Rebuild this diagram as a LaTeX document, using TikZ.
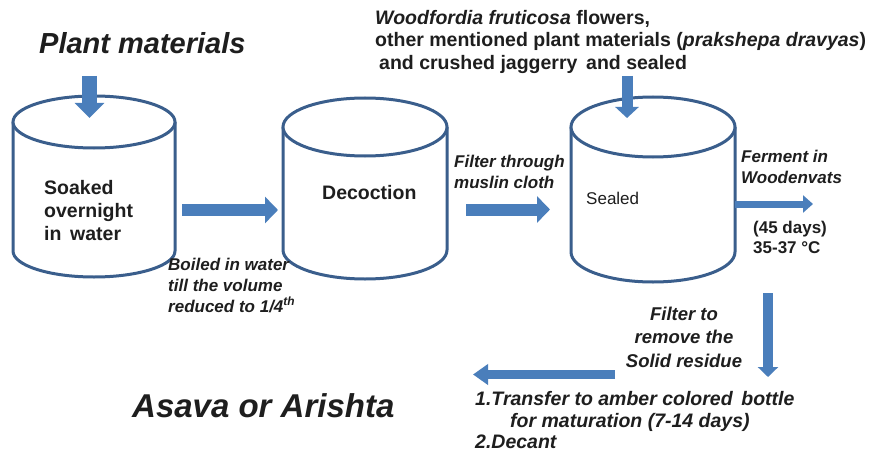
\documentclass[tikz,border=0pt]{standalone}
\usepackage{fontspec}
\setmainfont{Liberation Sans}
\usetikzlibrary{arrows.meta}
\definecolor{cylblue}{RGB}{58,94,140}
\definecolor{arrblue}{RGB}{74,126,187}
\definecolor{txt}{RGB}{30,30,30}
\tikzset{
  cyl/.style={draw=cylblue, line width=3pt, fill=white},
  lbl/.style={anchor=base west, inner sep=0pt, text=txt, font=\fontsize{#1}{#1}\selectfont\bfseries},
  ilbl/.style={anchor=base west, inner sep=0pt, text=txt, font=\fontsize{#1}{#1}\selectfont\bfseries\itshape},
  clbl/.style={anchor=base, inner sep=0pt, text=txt, font=\fontsize{#1}{#1}\selectfont\bfseries\itshape},
  blockarrow/.style n args={3}{draw=arrblue, line width=#1, -{Triangle[width=#2, length=#3]}},
}
\begin{document}
\begin{tikzpicture}[x=1pt,y=1pt]
\useasboundingbox (0,0) rectangle (869,456);
\fill[white] (0,0) rectangle (869,456);

% cylinders
\draw[cyl] (13,334) -- (13,205) arc(180:360:81pt and 26pt) -- (175,334);
\draw[cyl] (94,334) ellipse (81pt and 26pt);
\node[inner sep=0pt, minimum width=162pt, minimum height=155pt] (c1) at (94,269) {};

\draw[cyl] (283,329) -- (283,206) arc(180:360:82pt and 29pt) -- (447,329);
\draw[cyl] (365,329) ellipse (82pt and 29pt);
\node[inner sep=0pt, minimum width=164pt, minimum height=152pt] (c2) at (365,267) {};

\draw[cyl] (571,329) -- (571,204) arc(180:360:82pt and 30pt) -- (735,329);
\draw[cyl] (653,329) ellipse (82pt and 30pt);
\node[inner sep=0pt, minimum width=164pt, minimum height=155pt] (c3) at (653,266) {};

% arrow end points
\coordinate (a1s) at (89.5,380); \coordinate (a1e) at (89.5,338);
\coordinate (a2s) at (182,246);  \coordinate (a2e) at (278,246);
\coordinate (a3s) at (466,246.5);\coordinate (a3e) at (550,246.5);
\coordinate (a4s) at (627,380);  \coordinate (a4e) at (627,338);
\coordinate (a5s) at (735,252);  \coordinate (a5e) at (813,252);
\coordinate (a6s) at (768,163);  \coordinate (a6e) at (768,79);
\coordinate (a7s) at (615,81.5); \coordinate (a7e) at (473,81.5);

\draw[blockarrow={15pt}{29pt}{15pt}] (a1s) -- (a1e);
\draw[blockarrow={12pt}{26pt}{13pt}] (a2s) -- (a2e);
\draw[blockarrow={12pt}{26pt}{13pt}] (a3s) -- (a3e);
\draw[blockarrow={11pt}{23pt}{11pt}] (a4s) -- (a4e);
\draw[blockarrow={7pt}{17pt}{10pt}] (a5s) -- (a5e);
\draw[blockarrow={10pt}{20pt}{10pt}] (a6s) -- (a6e);
\draw[blockarrow={9pt}{20pt}{15pt}] (a7s) -- (a7e);

% texts
\node[ilbl=29] (pm) at (39,402) {Plant materials};

\node[lbl=19.5] (t1) at (375,431) {\itshape Woodfordia fruticosa\upshape{} flowers,};
\node[lbl=19.5] (t2) at (375,409) {other mentioned plant materials (\itshape prakshepa dravyas\upshape)};
\node[lbl=19.5] (t3) at (379,386) {and crushed jaggerry\, and sealed};

\node[lbl=19.5] (s1) at (44,262) {Soaked};
\node[lbl=19.5] (s2) at (44,239) {overnight};
\node[lbl=19.5] (s3) at (44,216) {in\, water};

\node[lbl=19.5] (dec) at (322,257) {Decoction};

\node[ilbl=17] (b1) at (168,186) {Boiled in water};
\node[ilbl=17] (b2) at (168,165) {till the volume};
\node[ilbl=17] (b3) at (168,144) {reduced to 1/4\textsuperscript{th}};

\node[ilbl=17] (f1) at (454,289) {Filter through};
\node[ilbl=17] (f2) at (454,268) {muslin cloth};

\node[anchor=base west, inner sep=0pt, text=txt, font=\fontsize{17}{17}\selectfont] (seal) at (586,252) {Sealed};

\node[ilbl=17] (fe1) at (741,294) {Ferment in};
\node[ilbl=17] (fe2) at (741,273) {Woodenvats};

\node[lbl=17] (d1) at (753,223) {(45 days)};
\node[lbl=17] (d2) at (753,203) {35-37 °C};

\node[clbl=18.5] (r1) at (684,136) {Filter to};
\node[clbl=18.5] (r2) at (684,113) {remove the};
\node[clbl=18.5] (r3) at (684,89) {Solid residue};

\node[ilbl=19.5] (m1) at (475,51) {1.Transfer to amber colored\, bottle};
\node[ilbl=19.5] (m2) at (510,29) {for maturation (7-14 days)};
\node[ilbl=19.5] (m3) at (475,8) {2.Decant};

\node[ilbl=33] (out) at (132,39) {Asava or Arishta};
\end{tikzpicture}
\end{document}
